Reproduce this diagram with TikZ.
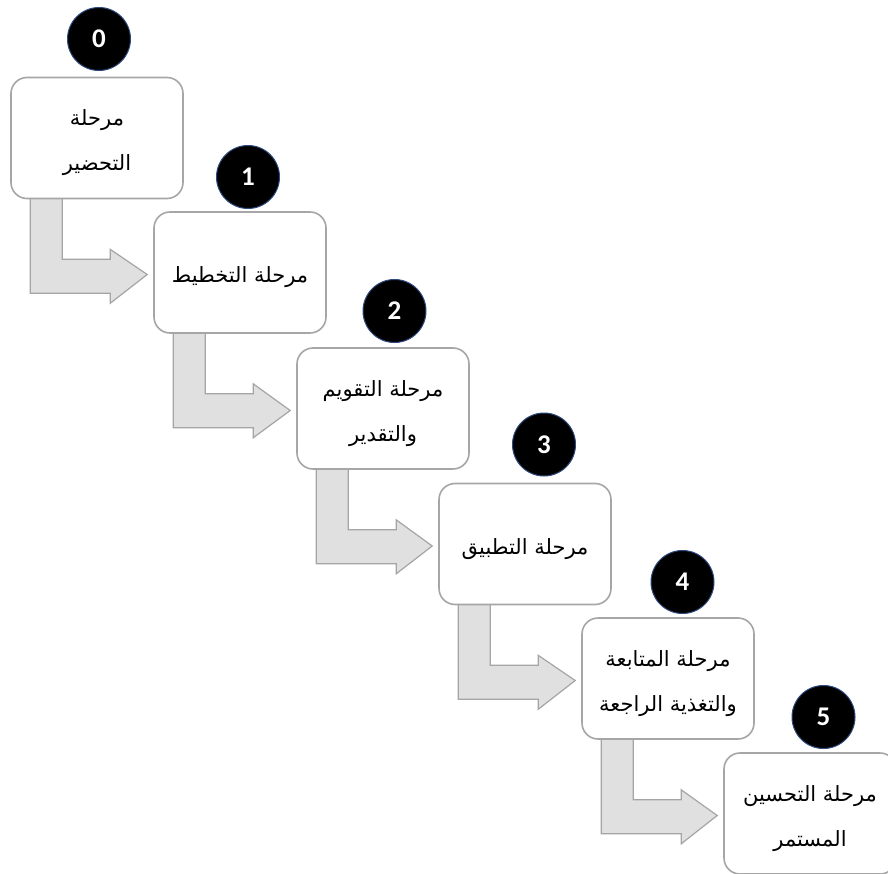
\documentclass[tikz,border=0pt]{standalone}
\usepackage{fontspec}
\setmainfont{Carlito}
\newfontfamily\arabicfont[Script=Arabic]{DejaVu Sans}
\TeXXeTstate=1
\usetikzlibrary{calc}
\pgfdeclarelayer{background}
\pgfsetlayers{background,main}
\definecolor{boxline}{HTML}{A6A6A6}
\definecolor{arrfill}{HTML}{E0E0E0}
\definecolor{arrline}{HTML}{A5A5A5}
\definecolor{circline}{HTML}{2F4A80}
\newcommand{\arline}[1]{\raisebox{-5pt}[\height][\depth]{\beginR #1\endR}}
\begin{document}
\begin{tikzpicture}[x=1pt,y=-1pt,
  stage/.style={draw=boxline, line width=1.6pt, rounded corners=16pt, fill=white,
    minimum width=172pt, minimum height=121pt, align=center, inner sep=0pt,
    font=\arabicfont\fontsize{21}{45}\selectfont},
  num/.style={circle, fill=black, draw=circline, line width=1pt, minimum size=63pt,
    inner sep=0pt, text=white, font=\bfseries\fontsize{27}{30}\selectfont},
  flow/.style={fill=arrfill, draw=arrline, line width=1.2pt, line join=miter}]
\useasboundingbox (0,0) rectangle (888,874);

\node[stage] (b0) at (97,138) {\arline{مرحلة}\\\arline{التحضير}};
\node[stage] (b1) at (240,272.5) {\arline{مرحلة التخطيط}};
\node[stage] (b2) at (383,408.5) {\arline{مرحلة التقويم}\\\arline{والتقدير}};
\node[stage] (b3) at (525,544) {\arline{مرحلة التطبيق}};
\node[stage] (b4) at (668,678.5) {\arline{مرحلة المتابعة}\\\arline{والتغذية الراجعة}};
\node[stage] (b5) at (810,813.5) {\arline{مرحلة التحسين}\\\arline{المستمر}};

\node[num] (n0) at (99,39) {0};
\node[num] (n1) at (248,177) {1};
\node[num] (n2) at (394.5,311) {2};
\node[num] (n3) at (544,444.5) {3};
\node[num] (n4) at (682.5,582) {4};
\node[num] (n5) at (823.5,717) {5};

\begin{pgfonlayer}{background}
\fill[white] (0,0) rectangle (888,874);
\foreach \a/\b in {b0/b1,b1/b2,b2/b3,b3/b4,b4/b5}{
  \draw[flow] ($(\a.south west)+(20,-6)$) -- ++(32,0) -- ++(0,66) -- ++(48,0) -- ++(0,-10)
    -- ($(\b.west)+(-6,2)$) -- ($(\a.south west)+(100,104)$) -- ++(0,-10) -- ++(-80,0) -- cycle;
}
\end{pgfonlayer}
\end{tikzpicture}
\end{document}
